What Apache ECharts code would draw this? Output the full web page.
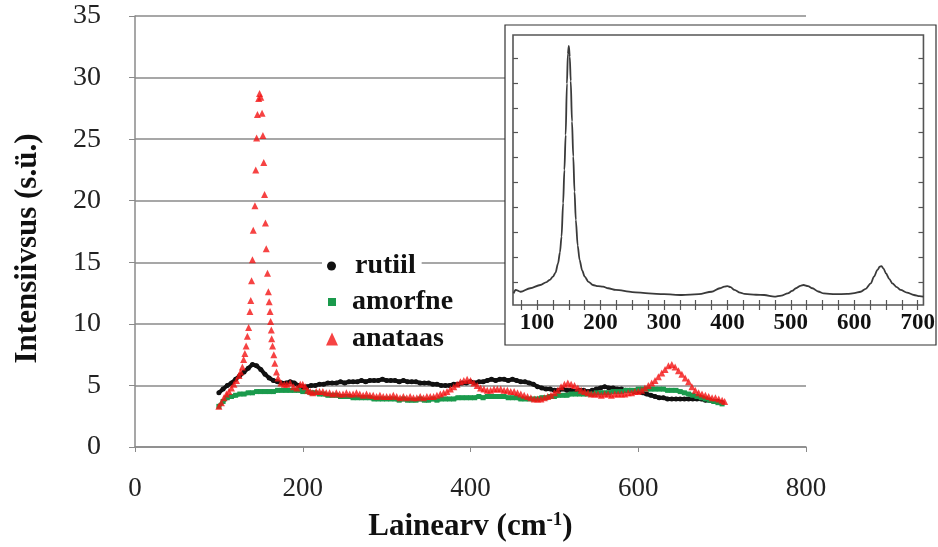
<!DOCTYPE html>
<html><head><meta charset="utf-8">
<script src="https://cdn.jsdelivr.net/npm/echarts@6/dist/echarts.min.js"></script>
<style>html,body{margin:0;padding:0;background:#fff}#c{width:938px;height:547px}</style>
</head><body><div id="c"></div>
<script>
// ---- main chart data (Raman spectra, wavenumber in cm-1) ----
const wavenumbers = [100,105,110,115,120,125,130,135,140,145,150,155,160,165,170,175,180,185,190,195,
200,205,210,215,220,225,230,235,240,245,250,255,260,265,270,275,280,285,290,295,
300,305,310,315,320,325,330,335,340,345,350,355,360,365,370,375,380,385,390,395,
400,405,410,415,420,425,430,435,440,445,450,455,460,465,470,475,480,485,490,495,
500,505,510,515,520,525,530,535,540,545,550,555,560,565,570,575,580,585,590,595,
600,605,610,615,620,625,630,635,640,645,650,655,660,665,670,675,680,685,690,695,700];
const rutiil = [4.4,4.7,5.0,5.2,5.5,5.8,6.1,6.4,6.7,6.6,
6.3,5.9,5.6,5.4,5.3,5.2,5.2,5.3,5.2,5.0,
4.9,4.9,5.0,5.0,5.1,5.1,5.2,5.2,5.2,5.3,
5.2,5.3,5.3,5.3,5.4,5.3,5.4,5.4,5.4,5.5,
5.4,5.4,5.4,5.3,5.4,5.3,5.3,5.3,5.2,5.2,
5.2,5.1,5.1,5.0,5.0,5.0,5.1,5.1,5.2,5.2,
5.3,5.2,5.3,5.3,5.4,5.5,5.4,5.5,5.5,5.4,
5.5,5.4,5.3,5.3,5.2,5.1,4.9,4.8,4.7,4.7,
4.6,4.6,4.7,4.6,4.6,4.5,4.6,4.6,4.5,4.6,
4.7,4.8,4.9,4.8,4.8,4.7,4.7,4.6,4.6,4.5,
4.5,4.4,4.3,4.2,4.1,4.0,4.0,3.9,3.9,3.9,
3.9,3.9,3.9,3.9,3.9,3.9,3.8,3.8,3.7,3.7,3.6];
const amorfne = [3.3,3.7,4.0,4.1,4.2,4.3,4.3,4.4,4.4,4.5,
4.5,4.5,4.5,4.5,4.6,4.6,4.6,4.6,4.6,4.6,
4.5,4.5,4.4,4.4,4.3,4.3,4.2,4.2,4.2,4.1,
4.1,4.1,4.0,4.0,4.0,4.0,4.0,3.9,3.9,3.9,
3.9,3.9,3.9,3.8,3.9,3.8,3.8,3.8,3.9,3.8,
3.8,3.9,3.8,3.9,3.9,3.9,3.9,4.0,4.0,4.0,
4.0,4.0,4.1,4.0,4.1,4.1,4.1,4.1,4.1,4.0,
4.0,4.0,3.9,3.9,3.9,3.9,3.9,4.0,4.0,4.1,
4.1,4.2,4.2,4.2,4.3,4.3,4.3,4.3,4.3,4.3,
4.4,4.4,4.4,4.4,4.5,4.5,4.5,4.6,4.6,4.6,
4.7,4.7,4.7,4.7,4.7,4.7,4.7,4.6,4.6,4.6,
4.5,4.4,4.3,4.2,4.1,4.0,3.9,3.8,3.7,3.6,3.5];
const anataas = [[100,3.3],[103,3.6],[106,4.0],[109,4.3],[112,4.5],[115,4.8],[118,5.1],[121,5.4],[124,5.8],[126,6.1],
[128,6.5],[129.5,7.1],[131,7.6],[132.5,8.2],[134,9.0],[135.5,9.7],[137,11.0],[138,11.9],[139,13.5],[140,15.2],
[141,17.6],[143,19.6],[144,22.5],[145,25.1],[146,27.0],[147.5,28.3],[148.5,28.7],[150,28.4],[151.5,27.1],[152.5,25.3],
[153.5,23.1],[154.5,20.5],[155.5,18.2],[156.5,16.1],[158,14.1],[159,12.6],[160,11.8],[161,11.0],[161.7,10.2],[162.5,9.5],
[163,8.8],[164,8.2],[165.5,7.5],[166.7,6.8],[168.7,6.1],[170.6,5.6],[174,5.2],[178,5.1],[181,5.1],[185,5.2],
[189,4.9],[193,4.8],[197,5.1],[200,5.1],[203,4.9],[206,4.6],[209,4.5],
[212,4.4],[216,4.5],[220,4.5],[224,4.5],[228,4.4],[232,4.4],[236,4.3],[240,4.4],[244,4.3],[248,4.3],
[252,4.4],[256,4.3],[260,4.3],[264,4.4],[268,4.3],[272,4.2],[276,4.3],[280,4.2],[284,4.2],[288,4.1],
[292,4.2],[296,4.1],[300,4.1],[304,4.1],[308,4.2],[312,4.1],[316,4.0],[320,4.1],[324,4.0],[328,4.1],
[332,4.0],[336,4.0],[340,4.1],[344,4.0],[348,4.1],[352,4.1],[356,4.1],[360,4.2],[364,4.3],[368,4.4],
[372,4.5],[376,4.7],[380,4.9],[384,5.1],[388,5.3],[392,5.4],[396,5.5],[400,5.4],[404,5.2],[408,5.0],
[412,4.8],[416,4.7],[420,4.6],[424,4.6],[428,4.7],[432,4.7],[436,4.7],[440,4.6],[444,4.6],[448,4.5],
[452,4.5],[456,4.4],[460,4.3],[464,4.2],[468,4.1],[472,4.0],[476,3.9],[480,3.9],[484,3.9],[488,4.0],
[492,4.1],[496,4.2],[500,4.4],[504,4.6],[508,4.9],[512,5.1],[516,5.2],[520,5.1],[524,5.0],[528,4.8],
[532,4.6],[536,4.5],[540,4.4],[544,4.3],[548,4.3],[552,4.3],[556,4.2],[560,4.3],[564,4.3],[568,4.2],
[572,4.3],[576,4.3],[580,4.3],[584,4.3],[588,4.4],[592,4.4],[596,4.5],[600,4.5],[604,4.6],[608,4.8],
[612,5.0],[616,5.2],[620,5.4],[624,5.7],[628,6.0],[632,6.3],[636,6.6],[640,6.7],[644,6.5],[648,6.2],
[652,5.9],[656,5.6],[660,5.3],[664,4.9],[668,4.6],[672,4.4],[676,4.3],[680,4.2],[684,4.1],[688,4.0],
[692,4.0],[696,3.9],[700,3.8],[703,3.7]];

// ---- inset (reference anatase spectrum, arbitrary units) ----
const insetSpectrum = [[63,4.3],[66,5.6],[74,4.9],[89,6.2],[105,7.4],[115,8.5],[120,9.3],[125,10.5],[129,12],[133,15.4],
[136,19.5],[138.5,25.3],[141,37.7],[143,50],[145,63],[147,82],[148.5,93],[150,96],[151.5,92],[153,83],
[155,68],[157,55],[159,42],[161,31.5],[164,22],[167,16.7],[171,12.8],[175,10.5],[181,8.6],[188,7.4],
[196,7.0],[204,6.8],[212,6.2],[224,5.6],[250,4.8],[276,4.3],[300,4.0],[328,3.7],[355,4.0],[375,4.9],
[388,6.2],[395,6.8],[400,7.0],[405,6.6],[411,5.6],[420,4.6],[427,4.1],[445,3.8],[458,3.7],[474,3.1],
[485,3.5],[495,4.3],[502,5.2],[508,6.2],[515,7.1],[520,7.4],[527,7.0],[534,6.2],[543,5.0],[552,4.3],
[570,4.0],[589,4.1],[600,4.4],[610,4.9],[618,6.0],[626,8.0],[631,10.5],[636.5,13.0],[640,14.2],[643,14.4],
[646,13.5],[650,11.7],[655,9.7],[660,8.0],[667,6.6],[673,5.6],[683,4.6],[694,3.7],[703,3.3],[709,3.1]];
const insetXLabels = [100,200,300,400,500,600,700];
const insetXTicks = [75,100,125,150,175,200,225,250,275,300,325,350,375,400,425,450,475,500,525,550,575,600,625,650,675,700];
const insetYTicks = [8.6,17.8,27.0,36.2,45.4,54.6,63.8,73.0,82.2,91.4];

const serif = "'Liberation Serif','Times New Roman',serif";
const zip = (xs, ys) => xs.map((x, i) => [x, ys[i]]);
const gridGray = '#8a8a8a';
const frame = '#555';

const chart = echarts.init(document.getElementById('c'), null, {renderer: 'canvas'});
const insetTick = (vals) => ({show: true, inside: true, length: 5, customValues: vals, lineStyle: {color: frame, width: 1.2}});
const legendText = (pad) => ({fontFamily: serif, fontWeight: 'bold', fontSize: 28, color: '#111', padding: [0, 0, 0, pad]});

chart.setOption({
  animation: false,
  backgroundColor: '#fff',
  grid: [
    {left: 135, top: 16, width: 671, height: 433.5},
    {left: 513, top: 35, width: 417, height: 270, show: true, backgroundColor: '#fff', borderColor: frame, borderWidth: 1.6, z: 6}
  ],
  graphic: [{type: 'rect', z: 5, shape: {x: 505, y: 25, width: 431, height: 320},
    style: {fill: '#fff', stroke: '#333', lineWidth: 1.2}}],
  legend: [
    {data: [{name: 'rutiil', icon: 'circle'}], left: 322, top: 250, itemWidth: 9, itemHeight: 9,
      padding: [2, 6, 2, 5], backgroundColor: '#fff', selectedMode: false, textStyle: legendText(14)},
    {data: [{name: 'amorfne', icon: 'rect'}], left: 328, top: 288, itemWidth: 8, itemHeight: 8,
      padding: 0, selectedMode: false, textStyle: legendText(11)},
    {data: [{name: 'anataas', icon: 'triangle'}], left: 326, top: 325, itemWidth: 12, itemHeight: 13,
      padding: 0, selectedMode: false, textStyle: legendText(9)}
  ],
  xAxis: [
    {gridIndex: 0, type: 'value', min: 0, max: 800, interval: 200,
      name: 'Lainearv (cm{sup|-1})', nameLocation: 'middle', nameGap: 64,
      nameTextStyle: {fontFamily: serif, fontWeight: 'bold', fontSize: 31, color: '#111',
        rich: {sup: {fontFamily: serif, fontWeight: 'bold', fontSize: 19, color: '#111', verticalAlign: 'top', padding: [0, 0, 12, 0]}}},
      axisLine: {show: true, lineStyle: {color: gridGray, width: 1.5}},
      axisTick: {show: true, length: 5, lineStyle: {color: gridGray}},
      axisLabel: {fontFamily: serif, fontSize: 27, color: '#222', margin: 28},
      splitLine: {show: false}},
    {gridIndex: 1, type: 'value', min: 62, max: 709, z: 7,
      axisLine: {show: false}, axisTick: insetTick(insetXTicks),
      axisLabel: {customValues: insetXLabels, fontFamily: serif, fontWeight: 'bold', fontSize: 23, color: '#111', margin: 7},
      splitLine: {show: false}},
    {gridIndex: 1, type: 'value', position: 'top', min: 62, max: 709, z: 7,
      axisLine: {show: false}, axisTick: insetTick(insetXTicks), axisLabel: {show: false}, splitLine: {show: false}}
  ],
  yAxis: [
    {gridIndex: 0, type: 'value', min: 0, max: 35, interval: 5,
      name: 'Intensiivsus (s.ü.)', nameLocation: 'middle', nameGap: 92,
      nameTextStyle: {fontFamily: serif, fontWeight: 'bold', fontSize: 31, color: '#111', padding: [0, 34, 0, 0]},
      axisLine: {show: true, lineStyle: {color: gridGray, width: 1.5}},
      axisTick: {show: true, length: 6, lineStyle: {color: gridGray}},
      axisLabel: {fontFamily: serif, fontSize: 28, color: '#222', margin: 34},
      splitLine: {show: true, lineStyle: {color: gridGray, width: 1.5}}},
    {gridIndex: 1, type: 'value', min: 0, max: 100, z: 7,
      axisLine: {show: false}, axisTick: insetTick(insetYTicks), axisLabel: {show: false}, splitLine: {show: false}},
    {gridIndex: 1, type: 'value', position: 'right', min: 0, max: 100, z: 7,
      axisLine: {show: false}, axisTick: insetTick(insetYTicks), axisLabel: {show: false}, splitLine: {show: false}}
  ],
  series: [
    {name: 'rutiil', type: 'line', xAxisIndex: 0, yAxisIndex: 0, data: zip(wavenumbers, rutiil),
      symbol: 'circle', symbolSize: 5, showSymbol: true, z: 3,
      lineStyle: {color: '#111', width: 4}, itemStyle: {color: '#111'}},
    {name: 'amorfne', type: 'line', xAxisIndex: 0, yAxisIndex: 0, data: zip(wavenumbers, amorfne),
      symbol: 'rect', symbolSize: 5, showSymbol: true, z: 3,
      lineStyle: {color: '#1a9a4c', width: 4}, itemStyle: {color: '#1a9a4c'}},
    {name: 'anataas', type: 'scatter', xAxisIndex: 0, yAxisIndex: 0, data: anataas,
      symbol: 'triangle', symbolSize: 7, z: 4, itemStyle: {color: '#f41414'}},
    {name: 'inset', type: 'line', xAxisIndex: 1, yAxisIndex: 1, data: insetSpectrum,
      symbol: 'none', smooth: 0.3, smoothMonotone: 'x', z: 8,
      lineStyle: {color: '#3a3a3a', width: 1.8}}
  ]
});
</script></body></html>
